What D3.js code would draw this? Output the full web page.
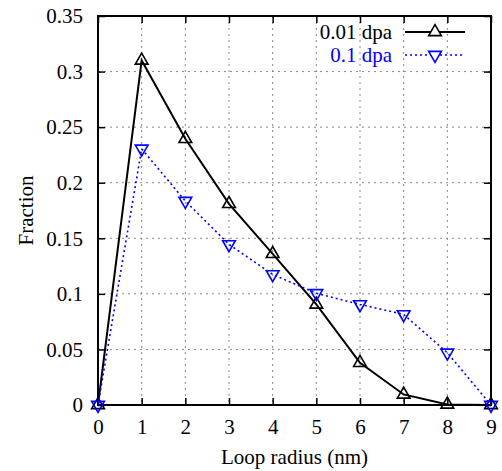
<!DOCTYPE html>
<html lang="en">
<head>
<meta charset="UTF-8">
<title>Loop radius distribution</title>
<script src="https://d3js.org/d3.v7.min.js"></script>
<style>
  body { margin: 0; background: #fff; }
  svg text { font-family: "Liberation Serif", "Times New Roman", Times, "DejaVu Serif", serif !important; }
</style>
</head>
<body>
<div id="chart"></div>
<script>
  // data
  const radius = [0, 1, 2, 3, 4, 5, 6, 7, 8, 9];
  const frac001 = [0, 0.31, 0.2395, 0.181, 0.136, 0.0905, 0.038, 0.0095, 0.0005, 0];
  const frac01 = [0, 0.2305, 0.1835, 0.1445, 0.1175, 0.1005, 0.0905, 0.0815, 0.047, 0];
  const xTicks = [0, 1, 2, 3, 4, 5, 6, 7, 8, 9];
  const yTicks = [0, 0.05, 0.1, 0.15, 0.2, 0.25, 0.3, 0.35];
  const seriesNames = ["0.01 dpa", "0.1 dpa"];

  const width = 502, height = 471;
  const margin = {left: 98, right: 11, top: 16, bottom: 66};
  const iw = width - margin.left - margin.right;
  const ih = height - margin.top - margin.bottom;
  const fs = 21;

  const x = d3.scaleLinear().domain([0, 9]).range([0, iw]);
  const y = d3.scaleLinear().domain([0, 0.35]).range([ih, 0]);

  const svg = d3.select("#chart").append("svg")
      .attr("width", width)
      .attr("height", height);

  const g = svg.append("g")
      .attr("transform", `translate(${margin.left},${margin.top})`);

  // dotted grid
  g.append("g").selectAll("line")
      .data(xTicks.slice(1, -1))
      .enter().append("line")
      .attr("x1", d => x(d)).attr("x2", d => x(d))
      .attr("y1", 0).attr("y2", ih)
      .attr("stroke", "#888").attr("stroke-width", 1)
      .attr("stroke-dasharray", "2,4");
  g.append("g").selectAll("line")
      .data(yTicks.slice(1, -1))
      .enter().append("line")
      .attr("x1", 0).attr("x2", iw)
      .attr("y1", d => y(d)).attr("y2", d => y(d))
      .attr("stroke", "#888").attr("stroke-width", 1)
      .attr("stroke-dasharray", "2,4");

  // axes with inward ticks on all sides
  const fmtY = d => d === 0 ? "0" : d3.format("~g")(+d.toFixed(2));
  const axB = g.append("g").attr("transform", `translate(0,${ih})`)
      .call(d3.axisBottom(x).tickValues(xTicks).tickSizeInner(-7).tickSizeOuter(0).tickPadding(14));
  const axL = g.append("g")
      .call(d3.axisLeft(y).tickValues(yTicks).tickFormat(fmtY).tickSizeInner(-7).tickSizeOuter(0).tickPadding(15));
  const axT = g.append("g")
      .call(d3.axisTop(x).tickValues(xTicks).tickSizeInner(-7).tickSizeOuter(0).tickFormat(""));
  const axR = g.append("g").attr("transform", `translate(${iw},0)`)
      .call(d3.axisRight(y).tickValues(yTicks).tickSizeInner(-7).tickSizeOuter(0).tickFormat(""));

  [axB, axL, axT, axR].forEach(a => {
    a.attr("font-size", fs).attr("font-family", null);
    a.select(".domain").remove();
    a.selectAll("line").attr("stroke", "#000").attr("stroke-width", 1.5);
    a.selectAll("text").attr("fill", "#000");
  });

  g.append("rect")
      .attr("width", iw).attr("height", ih)
      .attr("fill", "none").attr("stroke", "#000").attr("stroke-width", 2);

  const line = d3.line().x((d, i) => x(radius[i])).y(d => y(d));

  const triUp = d3.symbol().type(d3.symbolTriangle).size(70);

  // series 0.01 dpa
  g.append("path").datum(frac001)
      .attr("d", line)
      .attr("fill", "none").attr("stroke", "#000").attr("stroke-width", 2);
  g.append("g").selectAll("path")
      .data(frac001)
      .enter().append("path")
      .attr("d", triUp)
      .attr("transform", (d, i) => `translate(${x(radius[i])},${y(d)})`)
      .attr("fill", "none").attr("stroke", "#000").attr("stroke-width", 1.6);

  // series 0.1 dpa
  g.append("path").datum(frac01)
      .attr("d", line)
      .attr("fill", "none").attr("stroke", "#0000ff").attr("stroke-width", 1.6)
      .attr("stroke-dasharray", "2,3");
  g.append("g").selectAll("path")
      .data(frac01)
      .enter().append("path")
      .attr("d", triUp)
      .attr("transform", (d, i) => `translate(${x(radius[i])},${y(d)}) rotate(180)`)
      .attr("fill", "none").attr("stroke", "#0000ff").attr("stroke-width", 1.6);

  // legend
  const legend = svg.append("g");
  const legendItems = [
    {name: seriesNames[0], color: "#000", dash: null, rot: 0, sw: 2},
    {name: seriesNames[1], color: "#0000ff", dash: "2,3", rot: 180, sw: 1.6}
  ];
  legendItems.forEach((it, i) => {
    const ly = 32 + i * 23;
    legend.append("text")
        .attr("x", 392).attr("y", ly + 7)
        .attr("text-anchor", "end")
        .attr("font-size", fs)
        .attr("fill", it.color)
        .text(it.name);
    legend.append("line")
        .attr("x1", 405).attr("x2", 465)
        .attr("y1", ly).attr("y2", ly)
        .attr("stroke", it.color).attr("stroke-width", it.sw)
        .attr("stroke-dasharray", it.dash);
    legend.append("path")
        .attr("d", triUp)
        .attr("transform", `translate(435,${ly}) rotate(${it.rot})`)
        .attr("fill", "#fff").attr("stroke", it.color).attr("stroke-width", 1.6);
  });

  // axis titles
  svg.append("text")
      .attr("x", margin.left + iw / 2).attr("y", 464)
      .attr("text-anchor", "middle")
      .attr("font-size", fs)
      .text("Loop radius (nm)");
  svg.append("text")
      .attr("transform", `translate(33,${margin.top + ih / 2}) rotate(-90)`)
      .attr("text-anchor", "middle")
      .attr("font-size", fs)
      .text("Fraction");
</script>
</body>
</html>
